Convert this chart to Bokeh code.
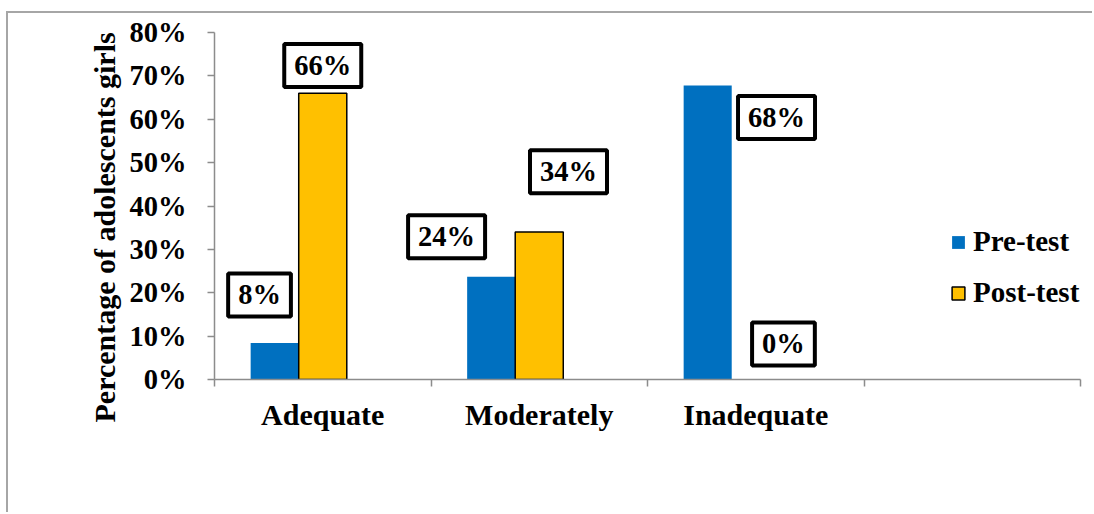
from bokeh.plotting import figure
from bokeh.models import FixedTicker, Label, Legend, LegendItem, Range1d, ColumnDataSource, Title
from bokeh.embed import file_html
from bokeh.resources import INLINE

# ---- data ----
categories = ["Adequate", "Moderately", "Inadequate", ""]
pre_test = [8.4, 23.7, 67.8]
post_test = [66.0, 34.0, 0.0]
pre_labels = ["8%", "24%", "68%"]
post_labels = ["66%", "34%", "0%"]
y_ticks = [0, 10, 20, 30, 40, 50, 60, 70, 80]
y_tick_labels = ["0%", "10%", "20%", "30%", "40%", "50%", "60%", "70%", "80%"]
series_names = ["Pre-test", "Post-test"]
y_title = "Percentage of adolescents girls"

# ---- layout of data labels (manually placed in the original) ----
pre_label_dx = [-0.07, -0.206, 0.318]
pre_label_y = [19.5, 32.9, 60.4]
post_label_dx = [0.0, 0.135, 0.128]
post_label_y = [72.4, 47.9, 8.2]

FONT = "Liberation Serif"
BLUE = "#0070C0"
GOLD = "#FFC000"
GREY = "#8c8c8c"
BW = 0.222

W, H = 1086, 501
p = figure(width=W, height=H, x_range=Range1d(0, 4), y_range=Range1d(0, 80),
           output_backend="svg", toolbar_location=None,
           min_border_left=206, min_border_right=14, min_border_top=19, min_border_bottom=135)
p.styles = {"border-left": "2px solid #a6a6a6", "border-top": "2px solid #a6a6a6",
            "margin-left": "6px", "margin-top": "11px"}
p.grid.visible = False
p.outline_line_color = None
p.background_fill_color = "white"
p.border_fill_color = "white"

n = len(pre_test)
pre_x = [i + 0.5 - BW for i in range(n)]
post_x = [i + 0.5 for i in range(n)]
src_pre = ColumnDataSource(dict(x=pre_x, top=pre_test))
src_post = ColumnDataSource(dict(x=post_x, top=post_test,
                                 lc=["black" if v > 0 else None for v in post_test]))

r_pre = p.vbar(x="x", top="top", bottom=0, width=BW, source=src_pre,
               fill_color=BLUE, line_color=None)
r_post = p.vbar(x="x", top="top", bottom=0, width=BW, source=src_post,
                fill_color=GOLD, line_color="lc", line_width=1.5)

# x axis
xa = p.xaxis[0]
xa.ticker = FixedTicker(ticks=[i + 0.5 for i in range(len(categories))],
                        minor_ticks=[float(i) for i in range(len(categories) + 1)])
xa.major_label_overrides = {i + 0.5: c for i, c in enumerate(categories)}
xa.major_tick_line_color = None
xa.major_tick_out = 0
xa.major_tick_in = 0
xa.minor_tick_out = 7
xa.minor_tick_in = 0
xa.minor_tick_line_color = GREY
xa.minor_tick_line_width = 1.5
xa.axis_line_color = GREY
xa.axis_line_width = 1.5
xa.major_label_standoff = 11
xa.major_label_text_font = FONT
xa.major_label_text_font_style = "bold"
xa.major_label_text_font_size = "30px"
xa.major_label_text_color = "black"

# y axis
ya = p.yaxis[0]
ya.ticker = FixedTicker(ticks=y_ticks, minor_ticks=[])
ya.major_label_overrides = {t: l for t, l in zip(y_ticks, y_tick_labels)}
ya.major_tick_out = 7
ya.major_tick_in = 0
ya.major_tick_line_color = GREY
ya.major_tick_line_width = 1.5
ya.axis_line_color = GREY
ya.axis_line_width = 1.5
ya.major_label_standoff = 21
ya.major_label_text_font = FONT
ya.major_label_text_font_style = "bold"
ya.major_label_text_font_size = "28.5px"
ya.major_label_text_color = "black"

# y-axis title, placed as in the original (starts a little below the axis bottom)
p.add_layout(Title(text=y_title, align="left", offset=-43, standoff=11,
                   text_font=FONT, text_font_style="bold", text_font_size="30px",
                   text_color="black"), "left")

# data labels
def add_label(x, y, text):
    p.add_layout(Label(x=x, y=y, text=text, text_align="center", text_baseline="middle",
                       text_font=FONT, text_font_style="bold", text_font_size="28.5px",
                       text_color="black", background_fill_color="white",
                       border_line_color="black", border_line_width=4,
                       padding=dict(left=10, right=10, top=6, bottom=6)))

for i in range(n):
    add_label(pre_x[i] + pre_label_dx[i], pre_label_y[i], pre_labels[i])
    add_label(post_x[i] + post_label_dx[i], post_label_y[i], post_labels[i])

legend = Legend(items=[LegendItem(label=series_names[0], renderers=[r_pre]),
                       LegendItem(label=series_names[1], renderers=[r_post])],
                location=(736, 70), orientation="vertical",
                glyph_width=16, glyph_height=16, label_standoff=7, spacing=18,
                padding=0, margin=0, border_line_color=None, background_fill_alpha=0,
                label_text_font=FONT, label_text_font_style="bold",
                label_text_font_size="29px", label_text_color="black")
p.add_layout(legend)

open("out.html", "w").write(file_html(p, INLINE))
